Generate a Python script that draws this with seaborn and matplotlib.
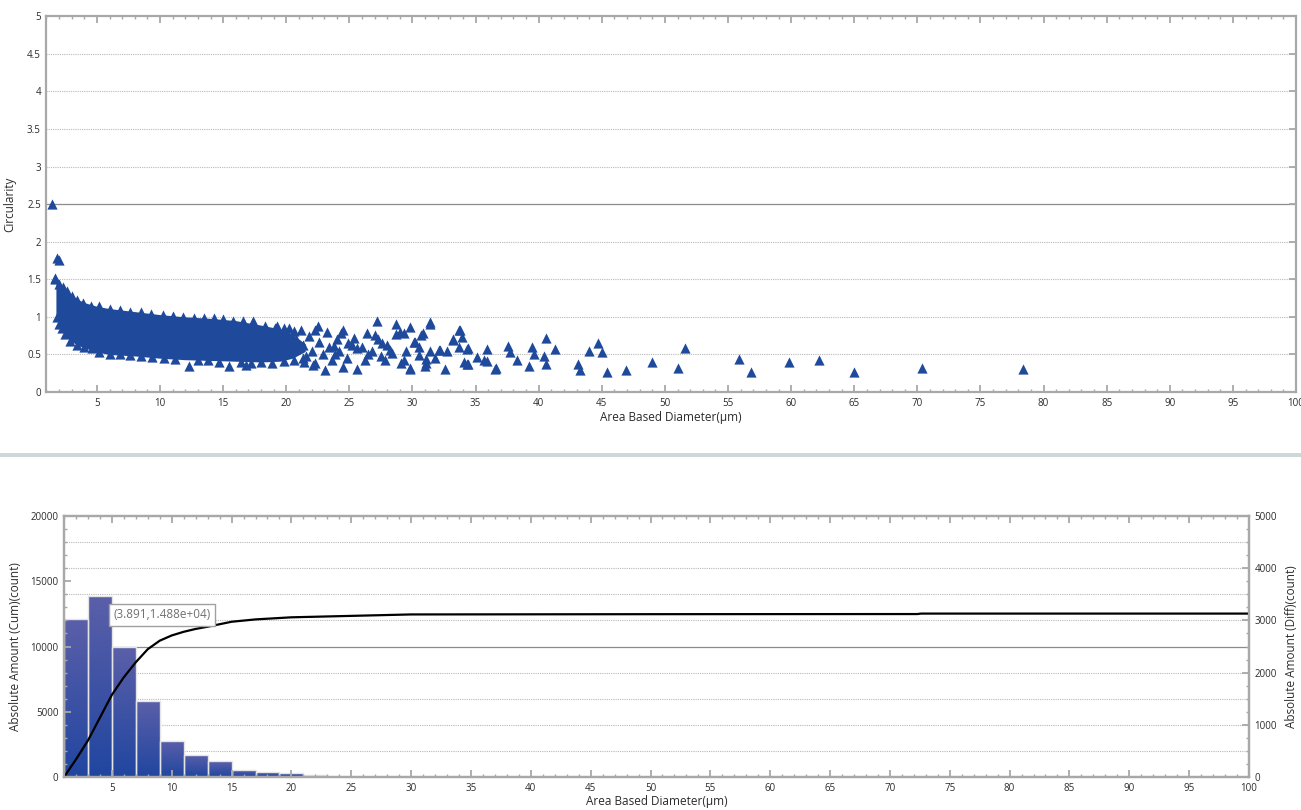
import numpy as np
import matplotlib
matplotlib.use('Agg')
import matplotlib.pyplot as plt
import seaborn as sns
from matplotlib.ticker import MultipleLocator, FuncFormatter
from matplotlib.patches import Rectangle
from matplotlib.colors import LinearSegmentedColormap

# --- top chart: circularity vs diameter ---
# dense core of the cloud (lower / upper centre lines of the markers)
band_x = [1.75, 2.0, 2.3, 2.6, 3.0, 3.5, 4.0, 5.0, 6.0, 8.0, 10.0, 12.0, 14.0, 16.0, 18.0, 19.5, 20.5, 21.5]
band_hi = [1.50, 1.44, 1.39, 1.34, 1.28, 1.23, 1.19, 1.14, 1.11, 1.07, 1.03, 1.00, 0.98, 0.95, 0.89, 0.84, 0.77, 0.64]
band_lo = [1.00, 0.90, 0.82, 0.74, 0.67, 0.62, 0.59, 0.53, 0.50, 0.48, 0.45, 0.43, 0.42, 0.41, 0.40, 0.41, 0.45, 0.54]

# particles on the edge of the core
edge_top_x = [1.7, 2.0, 2.3, 2.6, 3.0, 3.4, 3.9, 4.5, 5.2, 6.0, 6.8, 7.6, 8.5, 9.3, 10.2, 11.0,
              11.8, 12.7, 13.5, 14.3, 15.0, 15.8, 16.6, 17.4, 18.3, 19.1, 19.8, 20.6, 21.2]
edge_top_y = [1.50, 1.44, 1.40, 1.34, 1.28, 1.23, 1.19, 1.15, 1.14, 1.11, 1.09, 1.07, 1.06, 1.04, 1.02, 1.01,
              1.00, 0.99, 0.99, 0.98, 0.97, 0.95, 0.94, 0.94, 0.88, 0.85, 0.85, 0.81, 0.83]
edge_low_x = [1.8, 2.0, 2.2, 2.5, 2.9, 3.4, 4.0, 4.6, 5.2, 6.0, 6.8, 7.6, 8.5, 9.4, 10.3, 11.2,
              12.3, 13.0, 13.8, 14.7, 15.5, 16.4, 16.8, 17.2, 18.0, 18.9, 19.8, 20.6, 21.4]
edge_low_y = [1.00, 0.90, 0.85, 0.77, 0.68, 0.63, 0.60, 0.58, 0.53, 0.51, 0.50, 0.49, 0.48, 0.46, 0.45, 0.44,
              0.35, 0.43, 0.42, 0.40, 0.35, 0.40, 0.36, 0.39, 0.40, 0.39, 0.41, 0.42, 0.40]

# where the core thins out (about 19 to 32 µm)
thin_x = [19.3, 20.2, 20.8, 21.3, 21.6, 21.8, 22.0, 22.3, 22.6, 22.9, 23.4, 23.6, 24.0, 24.2,
          24.8, 25.2, 25.4, 26.0, 26.2, 26.8, 27.3, 27.5, 28.0, 28.4, 29.5, 30.5, 31.8]
thin_y = [0.88, 0.85, 0.70, 0.62, 0.48, 0.75, 0.55, 0.38, 0.66, 0.50, 0.60, 0.42, 0.70, 0.55,
          0.45, 0.62, 0.72, 0.60, 0.42, 0.55, 0.70, 0.48, 0.62, 0.52, 0.55, 0.60, 0.45]

# isolated particles
iso_x = [1.41, 1.81, 2.01, 1.67,
         21.3, 22.1, 22.3, 22.5, 23.1, 23.2, 23.8, 23.9, 24.3, 24.5, 24.5, 24.9, 25.6, 25.6,
         26.4, 26.5, 27.0, 27.2, 27.6, 27.8, 28.2, 28.7, 28.7, 29.0, 29.1, 29.3, 29.3, 29.8,
         29.8, 29.8, 30.1, 30.2, 30.5, 30.7, 30.8, 31.0, 31.1, 31.1, 31.4, 31.4, 31.4, 32.1,
         32.2, 32.6, 32.7, 33.2, 33.2, 33.7, 33.7, 33.8, 33.9, 34.1, 34.3, 34.3, 34.4, 34.4,
         35.1, 35.7, 35.9, 35.9, 36.5, 36.6, 37.6, 37.7, 38.3, 39.2, 39.5, 39.6, 40.4, 40.6,
         40.6, 41.3, 43.1, 43.3, 44.0, 44.7, 45.0, 45.4, 46.9, 49.0, 51.0, 51.6, 55.9, 56.8,
         59.8, 62.2, 65.0, 70.4, 78.4]
iso_y = [2.50, 1.78, 1.76, 1.52,
         0.45, 0.36, 0.82, 0.88, 0.29, 0.80, 0.61, 0.51, 0.78, 0.82, 0.33, 0.65, 0.58, 0.30,
         0.79, 0.51, 0.76, 0.95, 0.65, 0.43, 0.56, 0.91, 0.77, 0.80, 0.39, 0.79, 0.42, 0.87,
         0.30, 0.32, 0.67, 0.67, 0.49, 0.76, 0.78, 0.35, 0.38, 0.44, 0.91, 0.55, 0.93, 0.56,
         0.56, 0.30, 0.54, 0.69, 0.71, 0.83, 0.60, 0.82, 0.73, 0.40, 0.57, 0.37, 0.58, 0.375,
         0.46, 0.42, 0.57, 0.41, 0.30, 0.32, 0.61, 0.53, 0.42, 0.34, 0.60, 0.51, 0.48, 0.72,
         0.37, 0.57, 0.375, 0.295, 0.55, 0.65, 0.53, 0.27, 0.29, 0.40, 0.32, 0.585, 0.44, 0.26,
         0.40, 0.43, 0.26, 0.32, 0.31]

# --- bottom chart: size distribution ---
bin_edges = [1, 3, 5, 7, 9, 11, 13, 15, 17, 19, 21, 23, 25, 27, 29, 31]
diff_counts = [3036, 3470, 2500, 1460, 695, 427, 300, 140, 96, 77, 38, 8, 6, 4, 3]

cum_x = [1, 2, 3, 4, 5, 6, 7, 8, 9, 10, 11, 12, 13, 15, 17, 20, 25, 30, 40, 50, 60, 72.3, 72.6, 100]
cum_y = [0, 1350, 2800, 4550, 6300, 7650, 8800, 9800, 10450, 10850, 11130, 11350, 11520, 11900,
         12080, 12240, 12350, 12460, 12470, 12480, 12485, 12490, 12525, 12525]

tooltip = '(3.891,1.488e+04)'

BLUE = '#1f4a9c'
SPINE = '#a8a8a8'
TXT = '#2b2b2b'

sns.set_theme(style='white')
plt.rcParams['font.family'] = ['Open Sans', 'DejaVu Sans']


def style_axes(ax):
    for sp in ax.spines.values():
        sp.set_color(SPINE)
        sp.set_linewidth(1.6)
    ax.tick_params(which='both', direction='in', color=SPINE, labelcolor=TXT, labelsize=7,
                   top=True, bottom=True)
    ax.tick_params(which='major', length=5, width=1.3, pad=4)
    ax.tick_params(which='minor', length=2.5, width=1)
    ax.xaxis.set_major_locator(MultipleLocator(5))
    ax.xaxis.set_minor_locator(MultipleLocator(1))
    ax.xaxis.set_major_formatter(FuncFormatter(lambda v, p: '%g' % v))


def hlines(ax, step, n, solid_at):
    for k in range(1, n):
        v = k * step
        if abs(v - solid_at) < 1e-9:
            ax.axhline(v, color='#8c8c8c', lw=0.9, zorder=0.5)
        else:
            ax.axhline(v, color='#b8b8b8', lw=0.8, ls=(0, (1, 1)), zorder=0.5)


fig = plt.figure(figsize=(13.01, 8.10), dpi=100)

# top scatter
ax1 = fig.add_axes([0.0357, 0.516, 0.9605, 0.464])
hlines(ax1, 0.5, 10, 2.5)
ax1.fill_between(band_x, band_lo, band_hi, color=BLUE, lw=0, zorder=2)
sns.scatterplot(x=edge_top_x + edge_low_x + thin_x + iso_x,
                y=edge_top_y + edge_low_y + thin_y + iso_y,
                marker='^', s=54, color=BLUE, linewidth=0, ax=ax1, zorder=3)
ax1.set_xlim(1, 100)
ax1.set_ylim(0, 5)
style_axes(ax1)
ax1.tick_params(axis='y', right=True)
ax1.yaxis.set_major_locator(MultipleLocator(0.5))
ax1.yaxis.set_minor_locator(MultipleLocator(0.1))
ax1.yaxis.set_major_formatter(FuncFormatter(lambda v, p: '%g' % v))
ax1.set_xlabel('Area Based Diameter(µm)', fontsize=8.5, color=TXT, labelpad=2)
ax1.set_ylabel('Circularity', fontsize=8.5, color=TXT, labelpad=8)

# separator between the two panels
fig.add_artist(Rectangle((0, 1 - 457 / 810), 1, 4 / 810, transform=fig.transFigure,
                         color='#d0d7db', lw=0))

# bottom histogram + cumulative curve
ax2 = fig.add_axes([0.0492, 0.0407, 0.9108, 0.3222])
ax2r = ax2.twinx()
ax2.set_zorder(ax2r.get_zorder() + 1)
ax2.patch.set_visible(False)

hlines(ax2r, 500, 10, 2500)
centers = [(a + b) / 2 for a, b in zip(bin_edges[:-1], bin_edges[1:])]
sns.histplot(x=centers, weights=diff_counts, bins=bin_edges, ax=ax2r,
             color='#3a4fa4', edgecolor='#e4e4e4', linewidth=1, alpha=1, zorder=2)

cmap = LinearSegmentedColormap.from_list('bars', ['#2146a0', '#5b5fa9'])
grad = np.linspace(0, 1, 64).reshape(-1, 1)
for p in ax2r.patches:
    x0, y0, w, h = p.get_x(), p.get_y(), p.get_width(), p.get_height()
    im = ax2r.imshow(grad, extent=[x0, x0 + w, y0, y0 + h], origin='lower', cmap=cmap,
                     aspect='auto', zorder=2.1, interpolation='bilinear')
    im.set_clip_path(p)
    p.set_facecolor('none')
    p.set_zorder(2.2)

sns.lineplot(x=cum_x, y=cum_y, color='black', lw=1.6, ax=ax2)
ax2.text(9.2, 12420, tooltip, ha='center', va='center', fontsize=8.5, color='#707070',
         bbox=dict(boxstyle='square,pad=0.35', fc='white', ec='#a0a0a0', lw=1), zorder=5)

ax2.set_xlim(1, 100)
ax2.set_ylim(0, 20000)
ax2r.set_xlim(1, 100)
ax2r.set_ylim(0, 5000)
style_axes(ax2)
style_axes(ax2r)
ax2r.set_ylabel('')
ax2.yaxis.set_major_locator(MultipleLocator(5000))
ax2.yaxis.set_minor_locator(MultipleLocator(1000))
ax2r.yaxis.set_major_locator(MultipleLocator(1000))
ax2r.yaxis.set_minor_locator(MultipleLocator(250))
ax2.set_xlabel('Area Based Diameter(µm)', fontsize=8.5, color=TXT, labelpad=1)
ax2r.set_xlabel('')
ax2.set_ylabel('Absolute Amount (Cum)(count)', fontsize=8.5, color=TXT, labelpad=6)
ax2r.set_ylabel('Absolute Amount (Diff)(count)', fontsize=8.5, color=TXT, labelpad=6)

fig.savefig('out.png', dpi=100)
